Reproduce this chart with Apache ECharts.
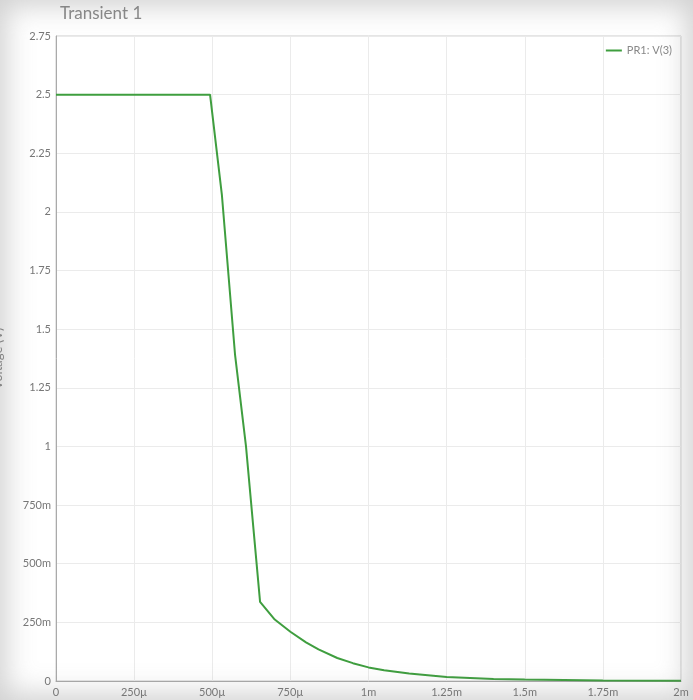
<!DOCTYPE html>
<html>
<head>
<meta charset="utf-8">
<script src="https://cdn.jsdelivr.net/npm/echarts@6/dist/echarts.min.js"></script>
<style>
html,body{margin:0;padding:0;background:#fff;}
#c{width:693px;height:700px;position:relative;}
#shade{position:absolute;left:0;top:0;width:693px;height:700px;pointer-events:none;
box-shadow: inset 0 0 28px 6px rgba(120,120,120,0.35);}
</style>
</head>
<body>
<div style="position:relative;width:693px;height:700px;">
<div id="c"></div>
<div id="shade"></div>
</div>
<script>
// time (s)
var timeS = [0, 0.000493, 0.000531, 0.000573, 0.000608, 0.000653, 0.0007, 0.00075, 0.0008, 0.00084, 0.0009, 0.00095, 0.001, 0.00105, 0.00113, 0.00125, 0.0014, 0.0015, 0.00175, 0.002];
// voltage (V)
var voltV = [2.5, 2.5, 2.07, 1.39, 1.0, 0.337, 0.262, 0.21, 0.165, 0.135, 0.098, 0.076, 0.058, 0.046, 0.032, 0.017, 0.009, 0.006, 0.002, 0.001];
var xTickLabels = ['0','250µ','500µ','750µ','1m','1.25m','1.5m','1.75m','2m'];
var yTickLabels = ['0','250m','500m','750m','1','1.25','1.5','1.75','2','2.25','2.5','2.75'];
var seriesName = 'PR1: V(3)';
var titleText = 'Transient 1';

var pts = timeS.map(function(t,i){return [t, voltV[i]];});
var chart = echarts.init(document.getElementById('c'), null, {renderer:'canvas'});
var font = 'Lato';
chart.setOption({
  backgroundColor:'#fff',
  animation:false,
  title:{text:titleText,left:55,top:0,textStyle:{fontFamily:font,fontSize:17,fontWeight:'normal',color:'#8a8a8a'}},
  legend:{top:40,right:16,itemWidth:16,itemHeight:2,itemGap:4,
    textStyle:{fontFamily:font,fontSize:11,color:'#888'},
    data:[{name:seriesName,icon:'rect'}]},
  grid:{left:56,right:12,top:36,bottom:19,show:true,borderColor:'#ccc',borderWidth:1,
    containLabel:false,outerBoundsMode:'none'},
  xAxis:{type:'value',min:0,max:0.002,interval:0.00025,
    axisLine:{show:true,lineStyle:{color:'#aaa'}},axisTick:{show:false},
    axisLabel:{fontFamily:font,fontSize:11,color:'#777',margin:6,showMaxLabel:true,
      formatter:function(v){return xTickLabels[Math.round(v/0.00025)];}},
    splitLine:{lineStyle:{color:'#ebebeb'}}},
  yAxis:{type:'value',min:0,max:2.75,interval:0.25,
    name:'Voltage (V)',nameLocation:'middle',nameGap:52,nameRotate:90,
    nameTextStyle:{fontFamily:font,fontSize:13,color:'#888'},
    axisLine:{show:true,lineStyle:{color:'#aaa'}},axisTick:{show:false},
    axisLabel:{fontFamily:font,fontSize:11,color:'#777',margin:5,
      formatter:function(v){return yTickLabels[Math.round(v/0.25)];}},
    splitLine:{lineStyle:{color:'#ebebeb'}}},
  series:[{name:seriesName,type:'line',data:pts,showSymbol:false,smooth:false,
    lineStyle:{color:'#3f9e3f',width:2},itemStyle:{color:'#3f9e3f'}}]
});
</script>
</body>
</html>
